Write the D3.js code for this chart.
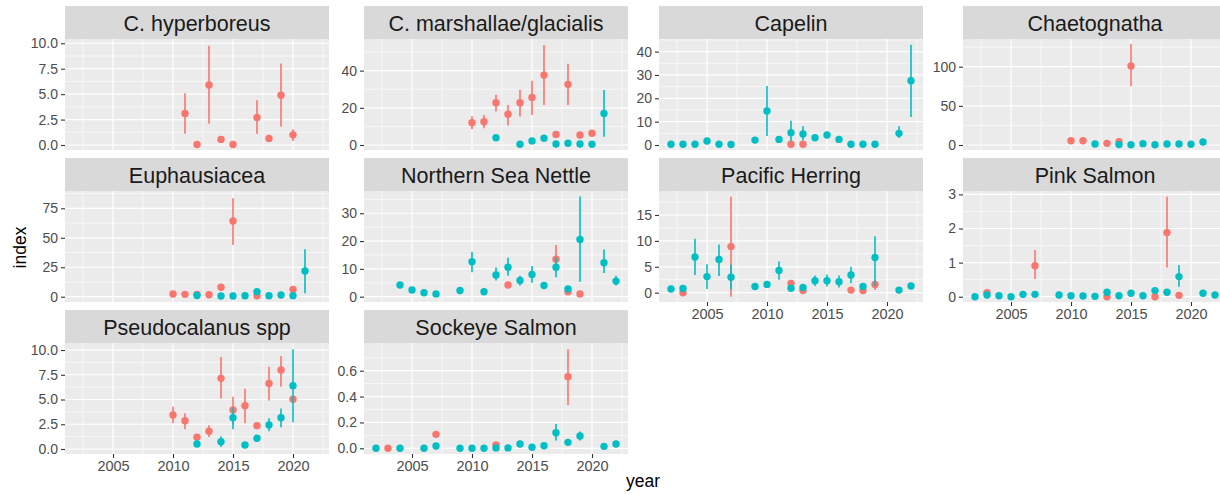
<!DOCTYPE html>
<html>
<head>
<meta charset="utf-8">
<script src="https://cdn.jsdelivr.net/npm/d3@7"></script>
<style>
  html, body { margin: 0; background: #ffffff; }
  svg { display: block; }
</style>
</head>
<body>
<svg id="chart" width="1220" height="494"></svg>
<script>
// Facet titles, in facet order (row by row)
const panelTitles = [
  "C. hyperboreus", "C. marshallae/glacialis", "Capelin", "Chaetognatha",
  "Euphausiacea", "Northern Sea Nettle", "Pacific Herring", "Pink Salmon",
  "Pseudocalanus spp", "Sockeye Salmon"
];

// Each row: [year, index, lower, upper]; rows without bounds have no visible range
const hyperboreusA = [[2011,3.1,1.1,5.1],[2012,0.05],[2013,5.9,2.1,9.75],[2014,0.55],[2015,0.05],[2017,2.7,1.1,4.4],[2018,0.65],[2019,4.9,1.8,8.0],[2020,1.0,0.4,1.55]];
const hyperboreusB = [];

const marshallaeA = [[2010,12.0,8.5,15.5],[2011,12.5,9.0,16.0],[2012,22.7,18.0,27.0],[2013,16.5,10.5,21.5],[2014,22.7,15.3,29.7],[2015,25.6,16.1,34.6],[2016,37.6,21.5,53.8],[2017,5.7],[2018,32.6,21.5,43.7],[2019,5.4],[2020,6.3]];
const marshallaeB = [[2012,3.9],[2014,0.4],[2015,2.2],[2016,3.6],[2017,0.5],[2018,0.9],[2019,0.5],[2020,0.4],[2021,17.0,4.5,29.6]];

const capelinA = [[2012,0.3],[2013,0.3]];
const capelinB = [[2002,0.3],[2003,0.3],[2004,0.3],[2005,1.7],[2006,0.3],[2007,0.2],[2009,2.1],[2010,14.6,3.9,25.3],[2011,2.4],[2012,5.3,1.5,10.4],[2013,4.7,2.0,8.0],[2014,3.1],[2015,4.3],[2016,2.4],[2017,0.3],[2018,0.3],[2019,0.3],[2021,5.0,3.0,8.0],[2022,27.5,12.0,42.9]];

const chaetognathaA = [[2010,5.5],[2011,5.5],[2013,2.1],[2014,4.3],[2015,101,75,129]];
const chaetognathaB = [[2012,1.3],[2014,0.5],[2015,0.4],[2016,1.7],[2017,0.4],[2018,1.3],[2019,1.3],[2020,0.9],[2021,3.8]];

const euphausiaceaA = [[2010,2.3],[2011,2.0],[2012,2.0],[2013,1.7],[2014,8.0],[2015,64.3,43.9,83.5],[2017,0.8],[2020,6.2]];
const euphausiaceaB = [[2012,1.0],[2014,0.6],[2015,0.6],[2016,0.8],[2017,4.3],[2018,0.8],[2019,1.5],[2020,0.8],[2021,21.8,2.9,40.2]];

const seaNettleA = [[2013,4.2],[2017,13.5,9.0,18.6],[2018,1.8],[2019,1.0]];
const seaNettleB = [[2004,4.2,3.2,5.2],[2005,2.4],[2006,1.4],[2007,1.0],[2009,2.2],[2010,12.6,8.8,16.2],[2011,1.8],[2012,7.8,5.8,10.5],[2013,10.6,7.5,14.0],[2014,5.8,4.0,7.5],[2015,8.0,5.0,11.0],[2016,4.0],[2017,10.6,7.0,14.0],[2018,2.8],[2019,20.6,5.4,36.0],[2021,12.2,8.5,17.0],[2022,5.6,4.0,7.5]];

const herringA = [[2003,0.0],[2007,8.9,-0.8,18.5],[2012,1.8],[2013,0.4],[2017,0.5],[2018,0.4],[2019,1.6,0.5,2.5]];
const herringB = [[2002,0.7],[2003,0.8],[2004,6.9,3.4,10.4],[2005,3.1,0.7,5.5],[2006,6.4,3.2,9.3],[2007,3.0,0.6,5.4],[2009,1.2],[2010,1.6],[2011,4.3,2.5,6.0],[2012,0.85],[2013,1.0],[2014,2.3,1.3,3.3],[2015,2.3,1.2,3.5],[2016,2.1,1.0,3.3],[2017,3.4,1.8,5.0],[2018,1.2],[2019,6.8,1.3,10.9],[2021,0.5],[2022,1.3]];

const pinkSalmonA = [[2003,0.12],[2007,0.91,0.52,1.37],[2013,0.0],[2017,0.0],[2018,1.88,0.86,2.93],[2019,0.04]];
const pinkSalmonB = [[2002,0.0],[2003,0.05],[2004,0.03],[2005,0.0],[2006,0.07],[2007,0.07],[2009,0.05],[2010,0.03],[2011,0.02],[2012,0.01],[2013,0.13],[2014,0.03],[2015,0.1],[2016,0.03],[2017,0.18,0.1,0.28],[2018,0.13],[2019,0.59,0.29,0.93],[2021,0.1],[2022,0.05]];

const pseudocalanusA = [[2010,3.43,2.6,4.3],[2011,2.86,2.0,3.6],[2012,1.18],[2013,1.8,1.2,2.4],[2014,7.14,5.1,9.3],[2015,3.94,2.5,5.28],[2016,4.38,2.6,6.1],[2017,2.36],[2018,6.63,4.9,8.3],[2019,7.98,6.3,9.4],[2020,5.02]];
const pseudocalanusB = [[2012,0.5],[2014,0.74,0.2,1.3],[2015,3.17,2.0,4.2],[2016,0.4],[2017,1.08],[2018,2.42,1.8,3.1],[2019,3.17,2.2,4.1],[2020,6.4,2.7,10.07]];

const sockeyeA = [[2003,0.0],[2007,0.108,0.085,0.13],[2012,0.025],[2018,0.554,0.335,0.766]];
const sockeyeB = [[2002,0.0],[2004,0.0],[2006,0.0],[2007,0.018],[2009,0.0],[2010,0.0],[2011,0.0],[2012,0.003],[2013,0.003],[2014,0.033],[2015,0.008],[2016,0.02],[2017,0.12,0.06,0.188],[2018,0.046],[2019,0.095,0.06,0.13],[2021,0.015],[2022,0.033]];

// Per-facet y tick labels
const yTickLabels = [
  ["0.0","2.5","5.0","7.5","10.0"],
  ["0","20","40"],
  ["0","10","20","30","40"],
  ["0","50","100"],
  ["0","25","50","75"],
  ["0","10","20","30"],
  ["0","5","10","15"],
  ["0","1","2","3"],
  ["0.0","2.5","5.0","7.5","10.0"],
  ["0.0","0.2","0.4","0.6"]
];
// Per-facet (free) y limits
const yLimits = [
  [-0.49, 10.42], [-2.69, 57.0], [-2.14, 45.4], [-6.4, 135.4],
  [-4.5, 89.7], [-1.91, 38.0], [-1.8, 19.63], [-0.155, 3.10],
  [-0.505, 10.71], [-0.044, 0.814]
];
const xTickLabels = ["2005", "2010", "2015", "2020"];
const xLimits = [2001, 2023];
const seriesColors = ["#F8766D", "#00BFC4"];

const seriesByPanel = [
  [hyperboreusA, hyperboreusB], [marshallaeA, marshallaeB], [capelinA, capelinB],
  [chaetognathaA, chaetognathaB], [euphausiaceaA, euphausiaceaB], [seaNettleA, seaNettleB],
  [herringA, herringB], [pinkSalmonA, pinkSalmonB], [pseudocalanusA, pseudocalanusB],
  [sockeyeA, sockeyeB]
];

// ---- layout ----
const colLeft = [65, 364, 659, 963];
const rowTop = [6, 158, 310];
const panelW = 264, stripH = 33, panelH = 111;
const nCols = 4;
const lastInColumn = [8, 9, 6, 7];   // facets that carry the x axis

const svg = d3.select("#chart");
const font = "'Liberation Sans', Arial, Helvetica, sans-serif";

function minorBreaks(majors, domain) {
  const step = majors[1] - majors[0];
  const out = [];
  for (let v = majors[0] - step / 2; v <= domain[1]; v += step) {
    if (v >= domain[0]) out.push(v);
  }
  return out;
}

panelTitles.forEach((title, i) => {
  const col = i % nCols, row = Math.floor(i / nCols);
  const x0 = colLeft[col], sTop = rowTop[row], pTop = sTop + stripH;

  const x = d3.scaleLinear().domain(xLimits).range([x0, x0 + panelW]);
  const y = d3.scaleLinear().domain(yLimits[i]).range([pTop + panelH, pTop]);

  const g = svg.append("g");

  // strip
  g.append("rect").attr("x", x0).attr("y", sTop).attr("width", panelW).attr("height", stripH)
    .attr("fill", "#D9D9D9");
  g.append("text").attr("x", x0 + panelW / 2).attr("y", sTop + 25)
    .attr("text-anchor", "middle").attr("font-family", font).attr("font-size", 21.5)
    .attr("fill", "#1A1A1A").text(title);

  // panel background
  g.append("rect").attr("x", x0).attr("y", pTop).attr("width", panelW).attr("height", panelH)
    .attr("fill", "#EBEBEB");

  const xMajor = xTickLabels.map(Number);
  const xMinor = minorBreaks(xMajor, xLimits);
  const yMajor = yTickLabels[i].map(Number);
  const yMinor = minorBreaks(yMajor, yLimits[i]);

  const grid = g.append("g").attr("stroke", "#FFFFFF").attr("fill", "none");
  grid.selectAll(".ymin").data(yMinor).join("line")
    .attr("x1", x0).attr("x2", x0 + panelW).attr("y1", d => y(d)).attr("y2", d => y(d))
    .attr("stroke-width", 0.6);
  grid.selectAll(".xmin").data(xMinor).join("line")
    .attr("y1", pTop).attr("y2", pTop + panelH).attr("x1", d => x(d)).attr("x2", d => x(d))
    .attr("stroke-width", 0.6);
  grid.selectAll(".ymaj").data(yMajor).join("line")
    .attr("x1", x0).attr("x2", x0 + panelW).attr("y1", d => y(d)).attr("y2", d => y(d))
    .attr("stroke-width", 1.2);
  grid.selectAll(".xmaj").data(xMajor).join("line")
    .attr("y1", pTop).attr("y2", pTop + panelH).attr("x1", d => x(d)).attr("x2", d => x(d))
    .attr("stroke-width", 1.2);

  // y axis
  const yAxis = g.append("g").attr("transform", `translate(${x0},0)`)
    .call(d3.axisLeft(y).tickValues(yMajor)
      .tickFormat((d, k) => yTickLabels[i][k]).tickSize(4).tickPadding(3));
  yAxis.select(".domain").remove();
  yAxis.selectAll("line").attr("stroke", "#333333").attr("stroke-width", 1.1);
  yAxis.selectAll("text").attr("fill", "#4D4D4D").attr("font-size", 14).attr("font-family", font);

  // x axis on the lowest facet of each column
  if (lastInColumn.includes(i)) {
    const xAxis = g.append("g").attr("transform", `translate(0,${pTop + panelH})`)
      .call(d3.axisBottom(x).tickValues(xMajor)
        .tickFormat((d, k) => xTickLabels[k]).tickSize(4).tickPadding(3));
    xAxis.select(".domain").remove();
    xAxis.selectAll("line").attr("stroke", "#333333").attr("stroke-width", 1.1);
    xAxis.selectAll("text").attr("fill", "#4D4D4D").attr("font-size", 14.5).attr("font-family", font);
  }

  // point ranges: first series, then second drawn over it
  seriesByPanel[i].forEach((rows, s) => {
    const sg = g.append("g");
    rows.forEach(r => {
      if (r.length === 4) {
        sg.append("line").attr("x1", x(r[0])).attr("x2", x(r[0]))
          .attr("y1", y(r[2])).attr("y2", y(r[3]))
          .attr("stroke", seriesColors[s]).attr("stroke-width", 1.6);
      }
      sg.append("circle").attr("cx", x(r[0])).attr("cy", y(r[1])).attr("r", 3.7)
        .attr("fill", seriesColors[s]);
    });
  });
});

// axis titles
svg.append("text").attr("transform", "translate(26,247.5) rotate(-90)")
  .attr("text-anchor", "middle").attr("font-family", font).attr("font-size", 17.5)
  .attr("fill", "#000000").text("index");
svg.append("text").attr("x", 643).attr("y", 487)
  .attr("text-anchor", "middle").attr("font-family", font).attr("font-size", 17.5)
  .attr("fill", "#000000").text("year");
</script>
</body>
</html>
